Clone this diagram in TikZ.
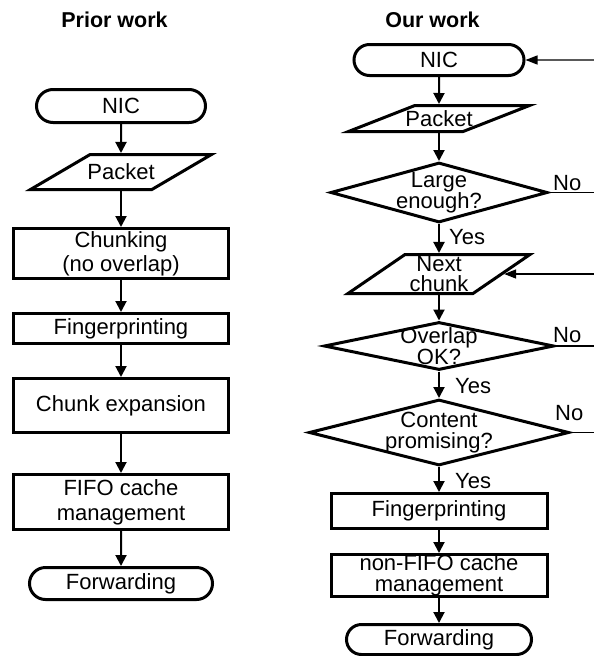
\documentclass[tikz,border=0pt]{standalone}
\usepackage{fontspec}
\setmainfont{Liberation Sans}
\usetikzlibrary{shapes.geometric,shapes.misc,arrows.meta}
\begin{document}
\begin{tikzpicture}[x=1pt,y=-1pt,
  txt/.style={font=\fontsize{22}{24}\selectfont, align=center, inner sep=0pt},
  tight/.style={font=\fontsize{22}{20}\selectfont, align=center, inner sep=0pt},
  shapebase/.style={draw, line width=3pt, inner sep=0pt, txt},
  term/.style={shapebase, rounded rectangle},
  proc/.style={shapebase, rectangle},
  io/.style={shapebase, trapezium, trapezium stretches=true, inner sep=0.5pt},
  dia/.style={shapebase, diamond, inner sep=0.5pt},
  flow/.style={line width=2pt, -{Triangle[length=11pt,width=11pt]}},
  fb/.style={line width=1.4pt},
  fbarrow/.style={fb, -{Triangle[length=12pt,width=9pt]}},
  lbl/.style={font=\fontsize{22}{24}\selectfont, inner sep=0pt, anchor=base west},
  ttl/.style={font=\fontsize{21.5}{24}\selectfont\bfseries, inner sep=0pt, anchor=base}
]
\useasboundingbox (0,0) rectangle (594,656);

% titles
\node[ttl] (ttlA) at (114.5,27) {Prior work};
\node[ttl] (ttlB) at (432.5,27) {Our work};

% ---------- prior work ----------
\node[term, minimum width=169pt, minimum height=33pt] (nicA) at (121,106) {NIC};
\node[io, minimum width=181pt, minimum height=35pt,
      trapezium left angle=46, trapezium right angle=134,
      label={[name=pktAt, txt]center:Packet}] (pktA) at (121,172) {};
\node[proc, minimum width=215pt, minimum height=50pt] (chkA) at (121,253.5) {Chunking\\(no overlap)};
\node[proc, minimum width=215pt, minimum height=30pt] (fpA) at (121,328.5) {Fingerprinting};
\node[proc, minimum width=215pt, minimum height=54pt] (ceA) at (121,405.5) {Chunk expansion};
\node[proc, minimum width=215pt, minimum height=55pt,
      font=\fontsize{22}{25}\selectfont] (fifoA) at (121,502) {FIFO cache\\management};
\node[term, minimum width=183pt, minimum height=32pt] (fwA) at (121,583.5) {Forwarding};

\draw[flow] (nicA) -- (pktA);
\draw[flow] (pktA) -- (chkA);
\draw[flow] (chkA) -- (fpA);
\draw[flow] (fpA) -- (ceA);
\draw[flow] (ceA) -- (fifoA);
\draw[flow] (fifoA) -- (fwA);

% ---------- our work ----------
\node[term, minimum width=170pt, minimum height=31pt] (nicB) at (439,60) {NIC};
\node[io, minimum width=181pt, minimum height=26pt,
      trapezium left angle=36, trapezium right angle=144,
      label={[name=pktBt, txt]center:Packet}] (pktB) at (439,118.5) {};
\node[dia, minimum width=217pt, minimum height=60pt,
      label={[name=ldBt, tight]center:Large\\enough?}] (ldB) at (439,192.5) {};
\node[io, minimum width=182pt, minimum height=39pt,
      trapezium left angle=50, trapezium right angle=130,
      label={[name=ncBt, tight]center:Next\\chunk}] (ncB) at (439,274) {};
\node[dia, minimum width=230pt, minimum height=48pt,
      label={[name=olBt, font=\fontsize{22}{20.5}\selectfont, align=center, inner sep=0pt]center:Overlap\\OK?}] (olB) at (439,346) {};
\node[dia, minimum width=260pt, minimum height=66pt,
      label={[name=cpBt, font=\fontsize{22}{20.5}\selectfont, align=center, inner sep=0pt]center:Content\\promising?}] (cpB) at (439,432.5) {};
\node[proc, minimum width=216pt, minimum height=35pt] (fpB) at (439,511) {Fingerprinting};
\node[proc, minimum width=216pt, minimum height=42pt,
      font=\fontsize{22}{21}\selectfont] (nfB) at (439,575.5) {non-FIFO cache\\management};
\node[term, minimum width=185pt, minimum height=30pt] (fwB) at (439,639.5) {Forwarding};

\draw[flow] (nicB) -- (pktB);
\draw[flow] (pktB) -- (ldB);
\draw[flow] (ldB) -- (ncB);
\draw[flow] (ncB) -- (olB);
\draw[flow] (olB) -- (cpB);
\draw[flow] (cpB) -- (fpB);
\draw[flow] (fpB) -- (nfB);
\draw[flow] (nfB) -- (fwB);

% Yes labels
\node[lbl] (yes1) at (449,244) {Yes};
\node[lbl] (yes2) at (455,393) {Yes};
\node[lbl] (yes3) at (455,488) {Yes};

% No branches and feedback
\coordinate (r0) at (594,60);
\coordinate (r1) at (594,192.5);
\coordinate (r2) at (594,274);
\coordinate (r3) at (594,346);
\coordinate (r4) at (594,432.5);
\draw[fbarrow] (r0) -- (nicB);
\draw[fb] (ldB.east) -- (r1);
\draw[fbarrow] (r2) -- (ncB);
\draw[fb] (olB.east) -- (r3);
\draw[fb] (cpB.east) -- (r4);
\node[lbl] (no1) at (553,190) {No};
\node[lbl] (no2) at (553,342) {No};
\node[lbl] (no3) at (555,420) {No};
\end{tikzpicture}
\end{document}
